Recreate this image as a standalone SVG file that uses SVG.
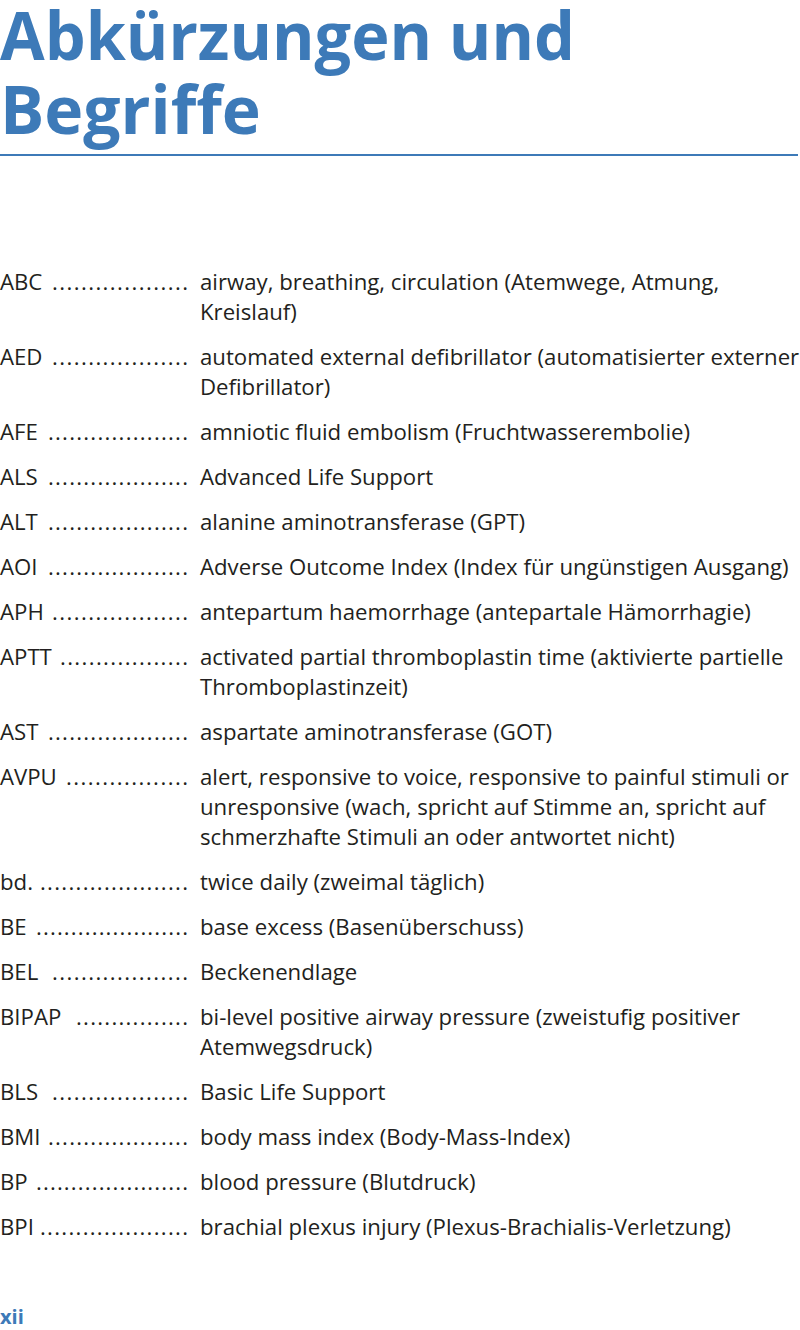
<svg xmlns="http://www.w3.org/2000/svg" width="800" height="1330" viewBox="0 0 800 1330">
<style>
.t{font-family:"Open Sans","Noto Sans",sans-serif;font-size:22.2px;fill:#231f20}
.h{font-family:"Open Sans","Noto Sans",sans-serif;font-weight:bold;fill:#3d7ab8}
</style>
<rect width="800" height="1330" fill="#fff"/>
<text class="h" x="0" y="60" font-size="66" textLength="575" lengthAdjust="spacingAndGlyphs">Abkürzungen und</text>
<text class="h" x="0" y="134" font-size="66">Begriffe</text>
<line x1="0" y1="155" x2="798" y2="155" stroke="#3d7ab8" stroke-width="2"/>
<g class="t">
<text x="0" y="290">ABC</text><text x="52" y="290" textLength="136" lengthAdjust="spacing">...................</text><text x="200" y="290">airway, breathing, circulation (Atemwege, Atmung,</text><text x="200" y="320">Kreislauf)</text>
<text x="0" y="365">AED</text><text x="52" y="365" textLength="136" lengthAdjust="spacing">...................</text><text x="200" y="365">automated external defibrillator (automatisierter externer</text><text x="200" y="395">Defibrillator)</text>
<text x="0" y="440">AFE</text><text x="48" y="440" textLength="140" lengthAdjust="spacing">....................</text><text x="200" y="440">amniotic fluid embolism (Fruchtwasserembolie)</text>
<text x="0" y="485">ALS</text><text x="48" y="485" textLength="140" lengthAdjust="spacing">....................</text><text x="200" y="485">Advanced Life Support</text>
<text x="0" y="530">ALT</text><text x="48" y="530" textLength="140" lengthAdjust="spacing">....................</text><text x="200" y="530">alanine aminotransferase (GPT)</text>
<text x="0" y="575">AOI</text><text x="48" y="575" textLength="140" lengthAdjust="spacing">....................</text><text x="200" y="575">Adverse Outcome Index (Index für ungünstigen Ausgang)</text>
<text x="0" y="620">APH</text><text x="52" y="620" textLength="136" lengthAdjust="spacing">...................</text><text x="200" y="620">antepartum haemorrhage (antepartale Hämorrhagie)</text>
<text x="0" y="665">APTT</text><text x="60" y="665" textLength="128" lengthAdjust="spacing">..................</text><text x="200" y="665">activated partial thromboplastin time (aktivierte partielle</text><text x="200" y="695">Thromboplastinzeit)</text>
<text x="0" y="740">AST</text><text x="48" y="740" textLength="140" lengthAdjust="spacing">....................</text><text x="200" y="740">aspartate aminotransferase (GOT)</text>
<text x="0" y="785">AVPU</text><text x="66" y="785" textLength="122" lengthAdjust="spacing">.................</text><text x="200" y="785">alert, responsive to voice, responsive to painful stimuli or</text><text x="200" y="815">unresponsive (wach, spricht auf Stimme an, spricht auf</text><text x="200" y="845">schmerzhafte Stimuli an oder antwortet nicht)</text>
<text x="0" y="890">bd.</text><text x="40" y="890" textLength="148" lengthAdjust="spacing">.....................</text><text x="200" y="890">twice daily (zweimal täglich)</text>
<text x="0" y="935">BE</text><text x="36" y="935" textLength="152" lengthAdjust="spacing">......................</text><text x="200" y="935">base excess (Basenüberschuss)</text>
<text x="0" y="980">BEL</text><text x="52" y="980" textLength="136" lengthAdjust="spacing">...................</text><text x="200" y="980">Beckenendlage</text>
<text x="0" y="1025">BIPAP</text><text x="76" y="1025" textLength="112" lengthAdjust="spacing">................</text><text x="200" y="1025">bi-level positive airway pressure (zweistufig positiver</text><text x="200" y="1055">Atemwegsdruck)</text>
<text x="0" y="1100">BLS</text><text x="52" y="1100" textLength="136" lengthAdjust="spacing">...................</text><text x="200" y="1100">Basic Life Support</text>
<text x="0" y="1145">BMI</text><text x="48" y="1145" textLength="140" lengthAdjust="spacing">....................</text><text x="200" y="1145">body mass index (Body-Mass-Index)</text>
<text x="0" y="1190">BP</text><text x="36" y="1190" textLength="152" lengthAdjust="spacing">......................</text><text x="200" y="1190">blood pressure (Blutdruck)</text>
<text x="0" y="1235">BPI</text><text x="40" y="1235" textLength="148" lengthAdjust="spacing">.....................</text><text x="200" y="1235">brachial plexus injury (Plexus-Brachialis-Verletzung)</text>
</g>
<text class="h" x="0" y="1324" font-size="20">xii</text>
</svg>
